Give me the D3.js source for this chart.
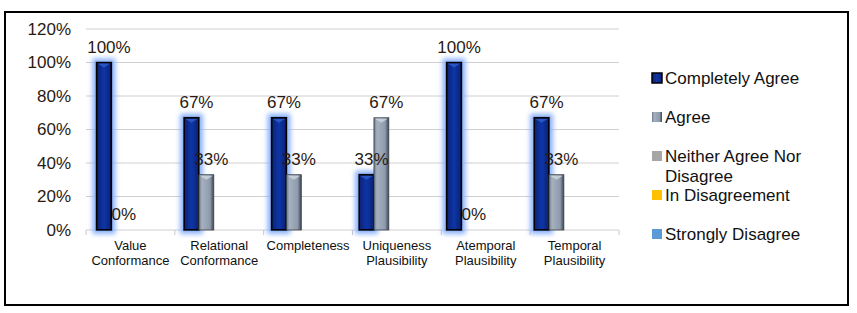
<!DOCTYPE html>
<html>
<head>
<meta charset="utf-8">
<script src="https://cdn.jsdelivr.net/npm/d3@7"></script>
<style>
  body { margin: 0; background: #fff; }
  svg { display: block; font-family: "Liberation Sans", Arial, sans-serif; }
</style>
</head>
<body>
<div id="chart"></div>
<script>
const categories = [
  ["Value", "Conformance"],
  ["Relational", "Conformance"],
  ["Completeness"],
  ["Uniqueness", "Plausibility"],
  ["Atemporal", "Plausibility"],
  ["Temporal", "Plausibility"]
];
const seriesNames = ["Completely Agree", "Agree", "Neither Agree Nor Disagree", "In Disagreement", "Strongly Disagree"];
const completelyAgree = [100, 67, 67, 33, 100, 67];
const agree = [0, 33, 33, 67, 0, 33];
const neither = [null, null, null, null, null, null];
const inDisagreement = [null, null, null, null, null, null];
const stronglyDisagree = [null, null, null, null, null, null];
const yTicks = [0, 20, 40, 60, 80, 100, 120];

const seriesValues = [completelyAgree, agree, neither, inDisagreement, stronglyDisagree];
const width = 857, height = 313;

const svg = d3.select("#chart").append("svg")
  .attr("width", width).attr("height", height);

const defs = svg.append("defs");
const glow = defs.append("filter").attr("id", "glow")
  .attr("x", "-80%").attr("y", "-20%").attr("width", "260%").attr("height", "140%");
glow.append("feMorphology").attr("in", "SourceAlpha").attr("operator", "dilate").attr("radius", 3).attr("result", "d");
glow.append("feGaussianBlur").attr("in", "d").attr("stdDeviation", 2.5).attr("result", "b");
glow.append("feFlood").attr("flood-color", "#86aefc").attr("flood-opacity", 1);
glow.append("feComposite").attr("in2", "b").attr("operator", "in").attr("result", "g");
const gm = glow.append("feMerge");
gm.append("feMergeNode").attr("in", "g");
gm.append("feMergeNode").attr("in", "SourceGraphic");

const navy = defs.append("linearGradient").attr("id", "navy").attr("x1", 0).attr("x2", 1);
navy.append("stop").attr("offset", 0).attr("stop-color", "#0a2270");
navy.append("stop").attr("offset", 0.5).attr("stop-color", "#0f35a8");
navy.append("stop").attr("offset", 1).attr("stop-color", "#0a2270");

const grey = defs.append("linearGradient").attr("id", "grey").attr("x1", 0).attr("x2", 1);
grey.append("stop").attr("offset", 0).attr("stop-color", "#6a7586");
grey.append("stop").attr("offset", 0.2).attr("stop-color", "#a6b1c0");
grey.append("stop").attr("offset", 0.75).attr("stop-color", "#8e9bac");
grey.append("stop").attr("offset", 1).attr("stop-color", "#3c4450");

const fills = ["url(#navy)", "url(#grey)", "#a6a6a6", "#ffc000", "#5b9bd5"];

// outer frame
svg.append("rect").attr("x", 5).attr("y", 12).attr("width", 843).attr("height", 293)
  .attr("fill", "none").attr("stroke", "#000").attr("stroke-width", 2);

const plot = { left: 86, right: 619, top: 29, bottom: 230 };

const y = d3.scaleLinear().domain([0, 120]).range([plot.bottom, plot.top]);
const x0 = d3.scaleBand().domain(d3.range(categories.length))
  .range([plot.left, plot.right]).paddingInner(0.15).paddingOuter(0.12);
const x1 = d3.scaleBand().domain(d3.range(seriesNames.length))
  .range([0, x0.bandwidth()]);

// gridlines
svg.append("g").selectAll("line").data(yTicks).join("line")
  .attr("x1", plot.left).attr("x2", plot.right)
  .attr("y1", d => y(d)).attr("y2", d => y(d))
  .attr("stroke", "#d0d0d0").attr("stroke-width", 1);

// y axis labels
const yAxis = svg.append("g").attr("transform", `translate(${plot.left},0)`)
  .call(d3.axisLeft(y).tickValues(yTicks).tickFormat(d => d + "%").tickSize(0).tickPadding(15));
yAxis.select(".domain").remove();
yAxis.selectAll("text").attr("font-size", 17).attr("fill", "#2a1a12")
  .attr("font-family", "Liberation Sans, Arial, sans-serif");

// x axis ticks
const bounds = d3.range(categories.length + 1).map(i => plot.left + i * (plot.right - plot.left) / categories.length);
svg.append("g").selectAll("line").data(bounds).join("line")
  .attr("x1", d => d).attr("x2", d => d)
  .attr("y1", plot.bottom).attr("y2", plot.bottom + 5)
  .attr("stroke", "#c8c8c8");

// category labels
const catG = svg.append("g").selectAll("text").data(categories).join("text")
  .attr("x", (d, i) => (bounds[i] + bounds[i + 1]) / 2)
  .attr("y", plot.bottom + 20)
  .attr("text-anchor", "middle").attr("font-size", 13).attr("fill", "#111");
catG.selectAll("tspan").data(d => d).join("tspan")
  .attr("x", function() { return d3.select(this.parentNode).attr("x"); })
  .attr("dy", (d, i) => i === 0 ? 0 : 15)
  .text(d => d);

// bars
const barData = [];
seriesValues.forEach((vals, s) => vals.forEach((v, c) => {
  if (v !== null) barData.push({ s, c, v });
}));

const bars = svg.append("g");
bars.selectAll("rect").data(barData.filter(d => d.v > 0)).join("rect")
  .attr("x", d => x0(d.c) + x1(d.s))
  .attr("y", d => y(d.v))
  .attr("width", x1.bandwidth())
  .attr("height", d => y(0) - y(d.v))
  .attr("fill", d => fills[d.s])
  .attr("stroke", d => d.s === 0 ? "#000" : "#3a4048")
  .attr("stroke-width", d => d.s === 0 ? 1.8 : 0.8)
  .attr("filter", d => d.s === 0 ? "url(#glow)" : null);

// bevel tops
bars.selectAll("path").data(barData.filter(d => d.v > 0)).join("path")
  .attr("d", d => {
    const bx = x0(d.c) + x1(d.s), w = x1.bandwidth(), ty = y(d.v);
    return `M${bx + 1},${ty + 1}L${bx + w / 2},${ty + 5}L${bx + w - 1},${ty + 1}Z`;
  })
  .attr("fill", d => d.s === 0 ? "#2f5fd0" : "#d0d6de")
  .attr("opacity", 0.8);

// value labels
svg.append("g").selectAll("text").data(barData).join("text")
  .attr("x", d => x0(d.c) + x1(d.s) + x1.bandwidth() / 2 + 5)
  .attr("y", d => y(d.v) - 10)
  .attr("text-anchor", "middle").attr("font-size", 17).attr("fill", "#2a1a12")
  .text(d => d.v + "%");

// legend
const legendRows = [
  { name: ["Completely Agree"], y: 78 },
  { name: ["Agree"], y: 117 },
  { name: ["Neither Agree Nor", "Disagree"], y: 156 },
  { name: ["In Disagreement"], y: 195 },
  { name: ["Strongly Disagree"], y: 234 }
];
const legend = svg.append("g").selectAll("g").data(legendRows).join("g")
  .attr("transform", d => `translate(652,${d.y})`);
legend.append("rect").attr("x", 0).attr("y", -5).attr("width", 10).attr("height", 10)
  .attr("fill", (d, i) => fills[i])
  .attr("stroke", (d, i) => i === 0 ? "#000" : "none").attr("stroke-width", 1.5);
const lt = legend.append("text").attr("x", 13).attr("y", 6)
  .attr("font-size", 17).attr("fill", "#111");
lt.selectAll("tspan").data(d => d.name).join("tspan")
  .attr("x", 13).attr("dy", (d, i) => i === 0 ? 0 : 20).text(d => d);
</script>
</body>
</html>
